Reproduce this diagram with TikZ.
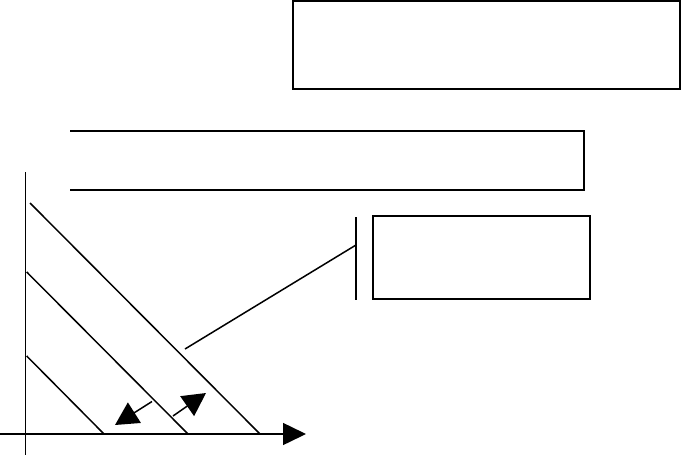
\documentclass[tikz,border=0pt]{standalone}
\usetikzlibrary{arrows.meta}
\begin{document}
\begin{tikzpicture}[
    x=1pt, y=-1pt,
    box/.style={draw, line width=2pt, inner sep=0pt},
    frame/.style={line width=2pt},
    ray/.style={line width=1.5pt},
    axis/.style={line width=1.5pt, -{Triangle[length=23pt,width=22pt]}},
    gap/.style={line width=1.5pt, -{Triangle[length=23pt,width=24pt]}},
]
\useasboundingbox (0,0) rectangle (682,455);
\node[box, minimum width=387pt, minimum height=88pt] (top) at (486.5,45) {};
\node[box, minimum width=217pt, minimum height=83pt] (panel) at (481.5,257.5) {};
\draw[frame] (70,131) -- (584,131) -- (584,190) -- (70,190);
\coordinate (bartop) at (356,217);
\coordinate (barbot) at (356,300);
\coordinate (barmid) at (356,245);
\coordinate (lead) at (185,349);
\draw[frame] (bartop) -- (barbot);
\draw[ray] (lead) -- (barmid);
\coordinate (ytop) at (25.7,172);
\coordinate (ybot) at (25.7,455);
\coordinate (xleft) at (0,434);
\coordinate (xright) at (306,434);
\draw[ray] (ytop) -- (ybot);
\draw[axis] (xleft) -- (xright);
\coordinate (d1a) at (30,203);
\coordinate (d1b) at (260,434);
\coordinate (d2a) at (26.7,272);
\coordinate (d2b) at (188,434);
\coordinate (d3a) at (26.7,356);
\coordinate (d3b) at (104,434);
\draw[ray] (d1a) -- (d1b);
\draw[ray] (d2a) -- (d2b);
\draw[ray] (d3a) -- (d3b);
\coordinate (in0) at (152,401.5);
\coordinate (in1) at (115,425);
\coordinate (out0) at (173,416);
\coordinate (out1) at (206,393);
\draw[gap] (in0) -- (in1);
\draw[gap] (out0) -- (out1);
\end{tikzpicture}
\end{document}
